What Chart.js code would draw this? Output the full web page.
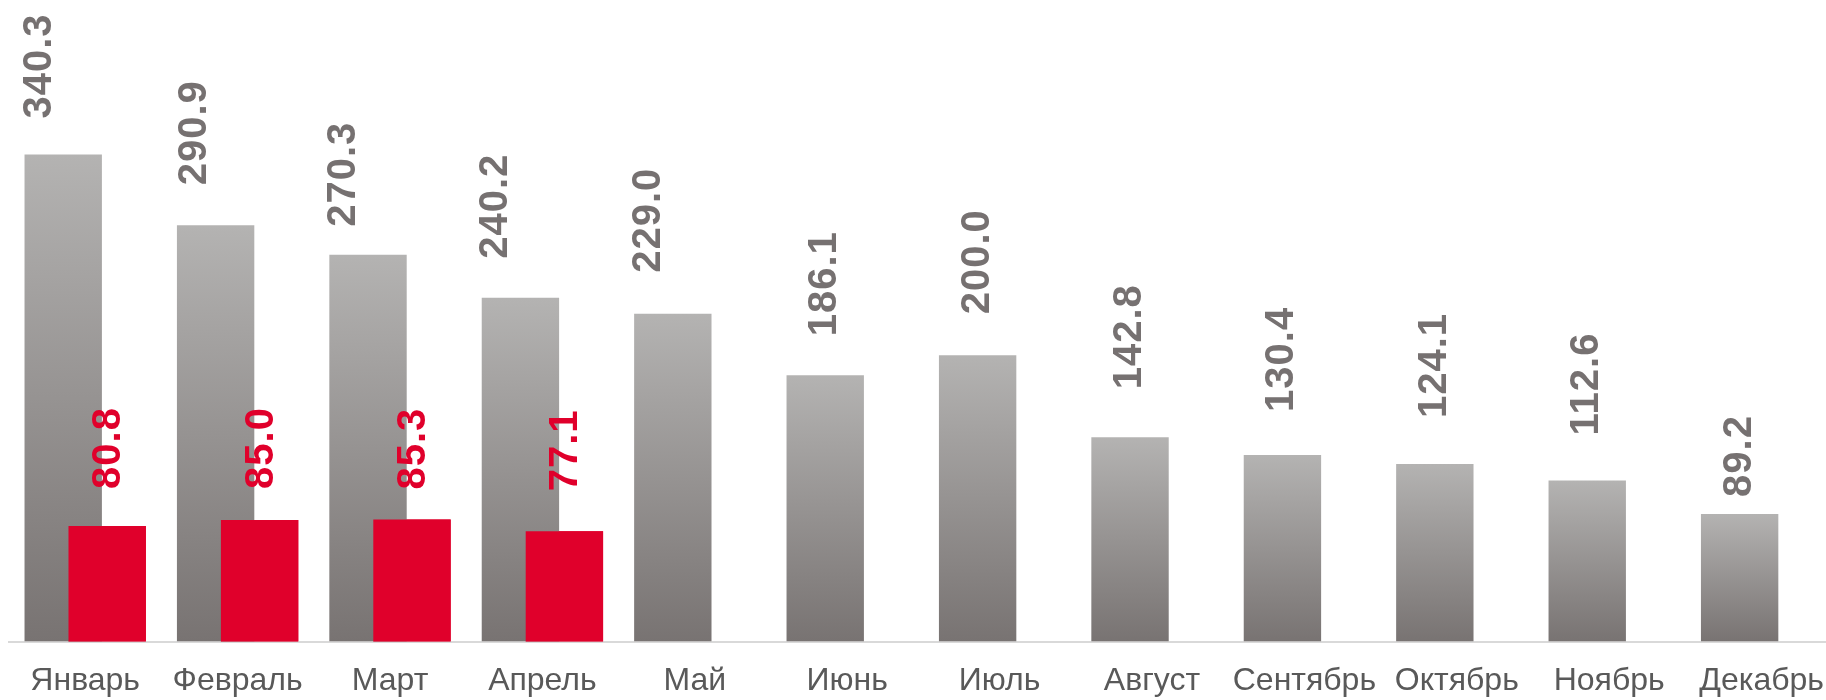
<!DOCTYPE html>
<html lang="ru">
<head>
<meta charset="utf-8">
<title>По месяцам</title>
<script src="https://cdn.jsdelivr.net/npm/chart.js@4.4.0/dist/chart.umd.min.js"></script>
<style>
  html, body { margin: 0; padding: 0; background: #fff; overflow: hidden; }
  /* the source chart is cropped a bit on the right and at the bottom */
  #wrap { position: relative; width: 1844px; height: 721px; }
</style>
</head>
<body>
<div id="wrap"><canvas id="monthChart"></canvas></div>
<script>
const months = ['Январь', 'Февраль', 'Март', 'Апрель', 'Май', 'Июнь', 'Июль', 'Август', 'Сентябрь', 'Октябрь', 'Ноябрь', 'Декабрь'];
const prevYear = [340.3, 290.9, 270.3, 240.2, 229.0, 186.1, 200.0, 142.8, 130.4, 124.1, 112.6, 89.2];
const thisYear = [80.8, 85.0, 85.3, 77.1, null, null, null, null, null, null, null, null];

(function () {
  const palette = {
    grayTop: '#b4b3b2',
    grayBottom: '#787372',
    grayLabel: '#767171',
    red: '#e0002b',
    axisText: '#595959',
    axisLine: '#d9d9d9'
  };

  // the value labels were placed by hand in the original, so they don't sit at one fixed distance
  const grayLabelLift = [36, 40, 28, 39, 41, 39, 41, 48, 43, 46, 45, 17];
  const grayLabelShift = [-23, -21, -24, -24, -24, 0, 0, 0, 0, 0, 0, 0];
  const redLabelLift = [37, 31, 30, 40];

  Chart.defaults.font.family = '"Liberation Sans", Arial, sans-serif';

  function grayFill(ctx) {
    const chart = ctx.chart;
    const y = chart.scales && chart.scales.y;
    if (!y || ctx.type !== 'data') {
      return palette.grayBottom;
    }
    const top = y.getPixelForValue(ctx.raw);
    const bottom = y.getPixelForValue(0);
    if (!isFinite(top) || !isFinite(bottom)) {
      return palette.grayBottom;
    }
    const g = chart.ctx.createLinearGradient(0, top, 0, bottom);
    g.addColorStop(0, palette.grayTop);
    g.addColorStop(1, palette.grayBottom);
    return g;
  }

  // red series sits to the right of the gray one but has to be painted over it
  const redOnTop = {
    id: 'redOnTop',
    afterDatasetsDraw(chart) {
      chart.getDatasetMeta(1).controller.draw();
    }
  };

  function drawUp(ctx, text, x, y, color) {
    ctx.save();
    ctx.fillStyle = color;
    ctx.translate(x, y);
    ctx.rotate(-Math.PI / 2);
    ctx.fillText(text, 0, 0);
    ctx.restore();
  }

  const valueLabels = {
    id: 'valueLabels',
    afterDatasetsDraw(chart) {
      const ctx = chart.ctx;
      ctx.save();
      ctx.font = 'bold 40px "Liberation Sans", Arial, sans-serif';
      ctx.letterSpacing = '1px';
      ctx.textAlign = 'left';
      ctx.textBaseline = 'middle';

      chart.getDatasetMeta(0).data.forEach((bar, i) => {
        drawUp(ctx, prevYear[i].toFixed(1), bar.x + grayLabelShift[i], bar.y - grayLabelLift[i], palette.grayLabel);
      });

      chart.getDatasetMeta(1).data.forEach((bar, i) => {
        const v = thisYear[i];
        if (v == null) {
          return;
        }
        drawUp(ctx, v.toFixed(1), bar.x + 2, bar.y - redLabelLift[i], palette.red);
      });
      ctx.restore();
    }
  };

  new Chart(document.getElementById('monthChart'), {
    type: 'bar',
    data: {
      labels: months,
      datasets: [
        {
          label: 'prev',
          data: prevYear,
          backgroundColor: grayFill,
          borderWidth: 0,
          categoryPercentage: 0.577,
          barPercentage: 1.76
        },
        {
          label: 'current',
          data: thisYear,
          backgroundColor: palette.red,
          borderWidth: 0,
          categoryPercentage: 0.577,
          barPercentage: 1.76
        }
      ]
    },
    options: {
      responsive: true,
      maintainAspectRatio: false,
      animation: false,
      layout: { padding: { left: 9, right: 0, top: 0, bottom: 1 } },
      scales: {
        x: {
          grid: { display: false, drawTicks: false },
          border: { display: true, color: palette.axisLine, width: 2 },
          ticks: {
            color: palette.axisText,
            font: { size: 32 },
            padding: 20,
            maxRotation: 0,
            autoSkip: false
          }
        },
        y: {
          display: false,
          min: 0,
          max: 448.3
        }
      },
      plugins: {
        legend: { display: false },
        tooltip: { enabled: false }
      }
    },
    plugins: [redOnTop, valueLabels]
  });
})();
</script>
</body>
</html>
